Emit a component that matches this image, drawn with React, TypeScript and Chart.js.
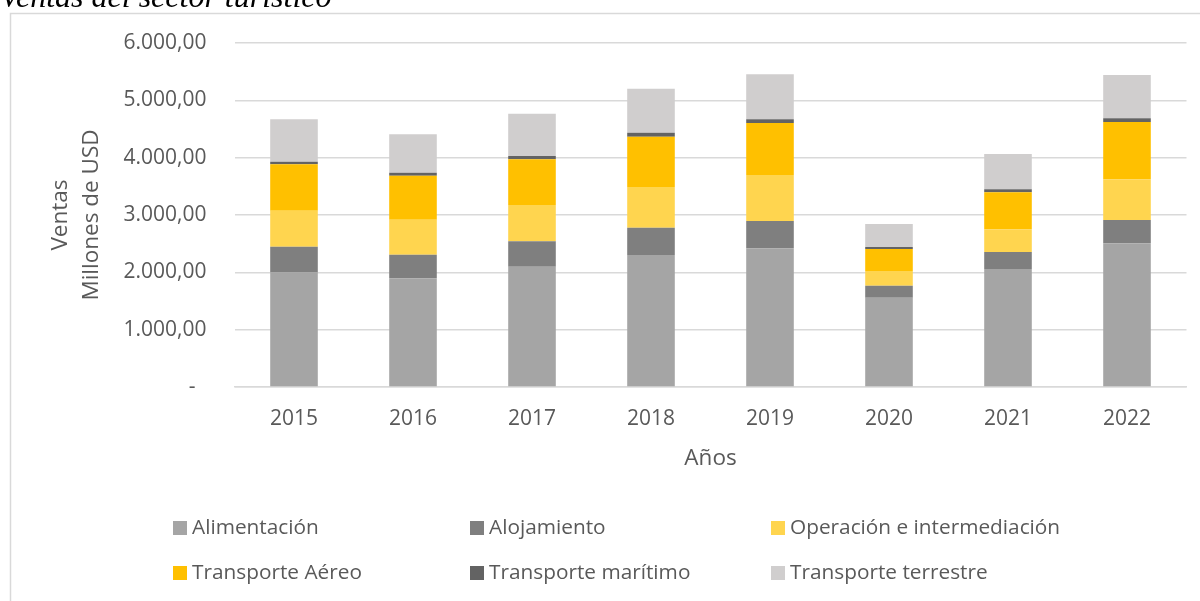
import React, { useEffect, useRef } from "react";
import { Chart, registerables } from "chart.js";

Chart.register(...registerables);

const years = ["2015", "2016", "2017", "2018", "2019", "2020", "2021", "2022"];
const alimentacion = [1995, 1896, 2099, 2302, 2419, 1558, 2058, 2506];
const alojamiento = [452, 412, 442, 477, 477, 209, 297, 406];
const operacion = [628, 610, 634, 710, 802, 256, 396, 710];
const aereo = [809, 768, 797, 877, 907, 384, 645, 1000];
const maritimo = [46, 53, 58, 70, 64, 35, 52, 65];
const terrestre = [739, 669, 737, 767, 785, 401, 616, 755];

const seriesNames = [
  "Alimentación",
  "Alojamiento",
  "Operación e intermediación",
  "Transporte Aéreo",
  "Transporte marítimo",
  "Transporte terrestre",
];
const seriesColors = ["#A5A5A5", "#7F7F7F", "#FFD54F", "#FFC000", "#636363", "#D0CECE"];
const seriesValues = [alimentacion, alojamiento, operacion, aereo, maritimo, terrestre];

const chartTitle = "Ventas del sector turístico";
const yTitleLines = ["Ventas", "Millones de USD"];
const xTitle = "Años";

const FONT = "'Open Sans', sans-serif";
const TEXT = "#595959";

function fmt(v: number): string {
  if (v === 0) return "-  ";
  const s = Math.round(v).toString();
  const grouped = s.replace(/\B(?=(\d{3})+(?!\d))/g, ".");
  return grouped + ",00";
}

const decorPlugin = {
  id: "decor",
  beforeDraw(chart: any) {
    const ctx = chart.ctx;
    ctx.save();
    ctx.fillStyle = "#ffffff";
    ctx.fillRect(0, 0, chart.width, chart.height);
    ctx.strokeStyle = "#D9D9D9";
    ctx.lineWidth = 1.5;
    ctx.strokeRect(10.5, 13.5, 1300, 700);
    ctx.restore();
  },
  afterDraw(chart: any) {
    const ctx = chart.ctx;
    const area = chart.chartArea;
    ctx.save();
    // chart title (cut off at top)
    ctx.fillStyle = "#000000";
    ctx.font = "italic 32px 'Liberation Serif', serif";
    ctx.textAlign = "left";
    ctx.textBaseline = "alphabetic";
    ctx.fillText(chartTitle, 0, 7);

    // y title
    ctx.fillStyle = TEXT;
    ctx.font = `22.5px ${FONT}`;
    ctx.textAlign = "center";
    ctx.textBaseline = "middle";
    const cy = (area.top + area.bottom) / 2;
    const xs = [61, 92];
    yTitleLines.forEach((line, i) => {
      ctx.save();
      ctx.translate(xs[i], cy);
      ctx.rotate(-Math.PI / 2);
      ctx.fillText(line, 0, 0);
      ctx.restore();
    });

    // x title
    ctx.fillText(xTitle, (area.left + area.right) / 2, 459);

    // legend
    const colX = [173, 470, 771];
    const rowY = [528, 573];
    ctx.font = `20.8px ${FONT}`;
    ctx.textAlign = "left";
    chart.data.datasets.forEach((ds: any, i: number) => {
      const x = colX[i % 3];
      const y = rowY[Math.floor(i / 3)];
      ctx.fillStyle = ds.backgroundColor;
      ctx.fillRect(x, y - 7, 14, 14);
      ctx.fillStyle = TEXT;
      ctx.fillText(ds.label, x + 19, y);
    });
    ctx.restore();
  },
};

export default function App() {
  const ref = useRef<HTMLCanvasElement>(null);
  useEffect(() => {
    if (!ref.current) return;
    const chart = new Chart(ref.current, {
      type: "bar",
      data: {
        labels: years,
        datasets: seriesNames.map((name, i) => ({
          label: name,
          data: seriesValues[i],
          backgroundColor: seriesColors[i],
          borderWidth: 0,
          barPercentage: 0.4,
          categoryPercentage: 1,
        })),
      },
      options: {
        animation: false,
        responsive: false,
        devicePixelRatio: 1,
        layout: { padding: { left: 0, top: 43, right: 13.5, bottom: 174 } },
        plugins: {
          legend: { display: false },
          title: { display: false },
          tooltip: { enabled: false },
        },
        scales: {
          x: {
            stacked: true,
            grid: { display: false, drawTicks: false },
            border: { display: true, color: "#D9D9D9", width: 1.5 },
            ticks: {
              color: TEXT,
              font: { family: FONT, size: 21 },
              padding: 19,
              maxRotation: 0,
              autoSkip: false,
            },
            afterFit: (s: any) => {
              s.height = 40;
            },
          },
          y: {
            stacked: true,
            min: 0,
            max: 6000,
            grid: { color: "#D9D9D9", lineWidth: 1.5, drawTicks: false },
            border: { display: false },
            ticks: {
              stepSize: 1000,
              color: TEXT,
              font: { family: FONT, size: 21 },
              padding: 28,
              callback: (v: any) => fmt(Number(v)),
            },
            afterFit: (s: any) => {
              s.width = 234.5;
            },
          },
        },
      },
      plugins: [decorPlugin],
    });
    return () => chart.destroy();
  }, []);
  return (
    <div style={{ position: "absolute", left: 0, top: 0, width: 1200, height: 601 }}>
      <canvas ref={ref} width={1200} height={601} style={{ display: "block" }} />
    </div>
  );
}
